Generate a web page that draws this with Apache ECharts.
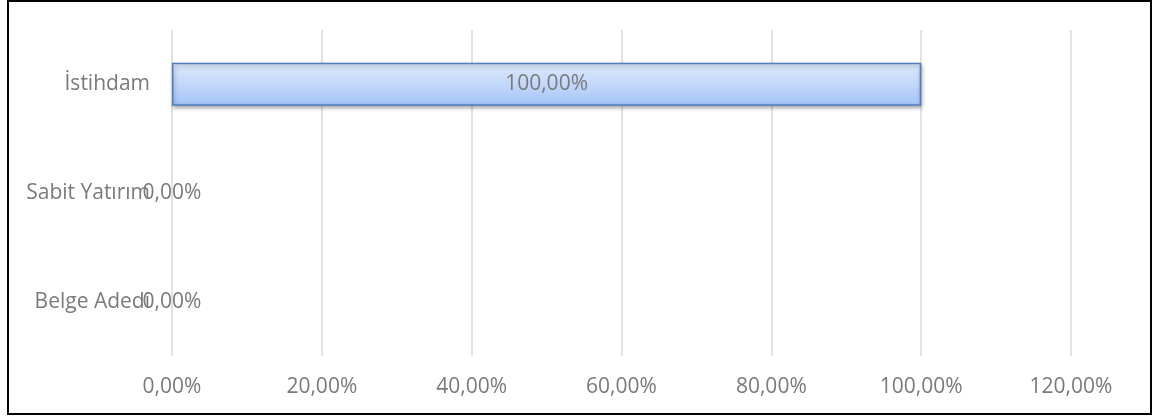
<!DOCTYPE html>
<html>
<head>
<meta charset="utf-8">
<script src="https://cdn.jsdelivr.net/npm/echarts@6/dist/echarts.min.js"></script>
<style>
html,body{margin:0;padding:0;background:#fff;}
#wrap{position:relative;width:1154px;height:419px;}
#chart{position:absolute;left:0;top:0;width:1154px;height:419px;}
#frame{position:absolute;left:7px;top:0px;width:1141px;height:411px;border:2px solid #000;pointer-events:none;}
</style>
</head>
<body>
<div id="wrap"><div id="chart"></div><div id="frame"></div></div>
<script>
const categories = ['Belge Adedi', 'Sabit Yatırım', 'İstihdam'];
const values = [0, 0, 100];
const axisMin = 0, axisMax = 120, axisStep = 20;

const fmt = v => v.toFixed(2).replace('.', ',') + '%';
const FONT = 'Open Sans';
const SIZE = 21;
const chart = echarts.init(document.getElementById('chart'));
chart.setOption({
  animation: false,
  grid: {left: 172, right: 83, top: 30, bottom: 63, containLabel: false},
  xAxis: {
    type: 'value', min: axisMin, max: axisMax, interval: axisStep,
    axisLine: {show: false}, axisTick: {show: false},
    splitLine: {lineStyle: {color: '#d9d9d9', width: 1.5}},
    axisLabel: {formatter: v => fmt(v), color: '#7a7a7a', fontFamily: FONT, fontSize: SIZE, margin: 21}
  },
  yAxis: {
    type: 'category', data: categories,
    axisLine: {show: false}, axisTick: {show: false},
    axisLabel: {color: '#7a7a7a', fontFamily: FONT, fontSize: SIZE, margin: 22}
  },
  series: [{
    type: 'bar', barWidth: 43,
    data: values.map(v => v === 0 ? {value: v, itemStyle: {borderWidth: 0, shadowBlur: 0, shadowOffsetX: 0, shadowOffsetY: 0}} : v),
    itemStyle: {
      color: new echarts.graphic.LinearGradient(0, 0, 0, 1, [
        {offset: 0, color: '#e0eafc'}, {offset: 1, color: '#a4c4f8'}
      ]),
      borderColor: '#4f7fc0', borderWidth: 1.5,
      shadowColor: 'rgba(0,0,0,0.35)', shadowBlur: 4, shadowOffsetX: 1, shadowOffsetY: 2
    },
    label: {show: true, position: 'inside', formatter: p => fmt(p.value), color: '#7a7a7a', fontFamily: FONT, fontSize: SIZE}
  }]
});
</script>
</body>
</html>
